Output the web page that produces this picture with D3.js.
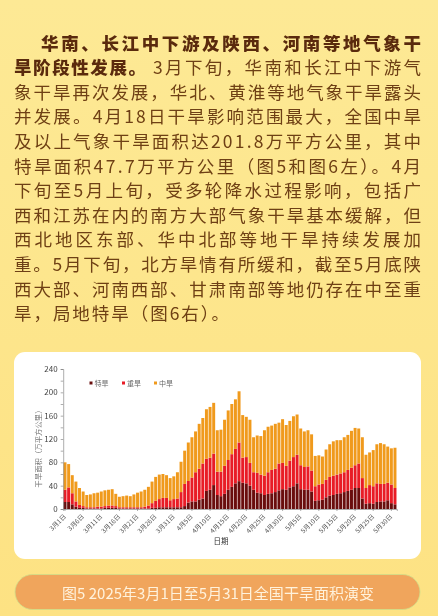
<!DOCTYPE html>
<html><head><meta charset="utf-8">
<script src="https://cdn.jsdelivr.net/npm/d3@7"></script>
<style>html,body{margin:0;padding:0;background:#fde488;overflow:hidden}svg{display:block}text{font-family:"Noto Sans CJK SC",sans-serif}</style>
</head><body><svg id="c" width="438" height="616"></svg>
<script>
const months=[[3,31],[4,30],[5,31]];
const dates=months.flatMap(([m,n])=>d3.range(1,n+1).map(d=>`${m}月${d}日`));
const tickDates=["3月1日","3月6日","3月11日","3月16日","3月21日","3月26日","3月31日","4月5日","4月10日","4月15日","4月20日","4月25日","4月30日","5月5日","5月10日","5月15日","5月20日","5月25日","5月30日"];
const seriesNames=["特旱","重旱","中旱"];
const extreme=[12,12,8,4,2,2,1,1,1,1,1,2,2,2,2,1,1,1,1,1,1,1,1,1,2,2,3,3,3,3,3,3,3,5,11,13,13,16,18,31,33,41,24,22,26,33,38,44,47.7,45,44,40,33,28,27,24,26,27,29,32,34,33,37,39,44,34,33,33,30,14,15,16,20,23,24,26,27,29,31,33,36,36,18,9,10,9,12,13,13,15,10,8];
const severe=[21,25,19,9,5,3,2,2,2,3,3,3,4,4,3,2,2,2,2,2,2,2,3,5,8,12,14,16,16,12,14,15,26,38,37,41,50,53,60,55,55,54,40,42,48,51,56,59,66.3,43,45,39,30,34,32,33,37,40,40,46,45,41,46,50,49,41,39,40,36,25,27,27,30,32,33,33,34,34,36,38,39,42,35,27,31,30,32,30,30,30,32,28];
const moderate=[47,40,31,34,29,25,21,22,24,24,26,27,27,28,21,18,19,20,19,22,25,27,29,32,37,41,42,41,39,38,39,45,52,57,66,69,70,77,78,85,87,87,71,72,79,85,86,85,87.8,73,69,74,60,64,66,78,78,76,77,70,75,70,68,70,69,63,61,62,62,52,50,47,52,56,59,59,57,60,60,63,64,60,70,57,56,62,67,70,68,62,62,69];
const colors=["#6b0f10","#e81c26","#f09a1e"];
const yTicks=[0,40,80,120,160,200,240];
const paragraph=[
 [["华南、长江中下游及陕西、河南等地气象干",1,41,421]],
 [["旱阶段性发展。",1,14,146],["3月下旬，华南和长江中下游气",0,153,421]],
 [["象干旱再次发展，华北、黄淮等地气象干旱露头",0,14,421]],
 [["并发展。4月18日干旱影响范围最大，全国中旱",0,14,421]],
 [["及以上气象干旱面积达201.8万平方公里，其中",0,14,421]],
 [["特旱面积47.7万平方公里（图5和图6左）。4月",0,14,421]],
 [["下旬至5月上旬，受多轮降水过程影响，包括广",0,14,421]],
 [["西和江苏在内的南方大部气象干旱基本缓解，但",0,14,421]],
 [["西北地区东部、华中北部等地干旱持续发展加",0,14,421]],
 [["重。5月下旬，北方旱情有所缓和，截至5月底陕",0,14,421]],
 [["西大部、河南西部、甘肃南部等地仍存在中至重",0,14,421]],
 [["旱，局地特旱（图6右）。",0,14,229]]
];
const caption="图5 2025年3月1日至5月31日全国干旱面积演变";

const svg=d3.select("#c");
const defs=svg.append("defs");
const g=defs.append("linearGradient").attr("id","bg").attr("x1",0).attr("x2",0).attr("y1",0).attr("y2",1);
g.append("stop").attr("offset",0).attr("stop-color","#fde995");
g.append("stop").attr("offset",1).attr("stop-color","#fde283");
defs.append("filter").attr("id","soft").append("feGaussianBlur").attr("stdDeviation",0.35);
defs.append("filter").attr("id","softText").append("feGaussianBlur").attr("stdDeviation",0.25);
svg.append("rect").attr("width",438).attr("height",616).attr("fill","url(#bg)");

const body=svg.append("g").attr("filter","url(#softText)");
paragraph.forEach((line,i)=>{
  const y=49.5+i*24.6;
  line.forEach(([t,bold,x0,x1])=>{
    body.append("text").attr("x",x0).attr("y",y).attr("font-size",17.5)
      .attr("font-weight",bold?900:400).attr("fill",bold?"#5a2b0d":"#6e3f13")
      .attr("textLength",x1-x0).attr("lengthAdjust","spacing").text(t);
  });
});

svg.append("rect").attr("x",14).attr("y",352).attr("width",407).attr("height",207).attr("rx",11).attr("fill","#fff");
svg.append("rect").attr("x",15).attr("y",574.5).attr("width",405).attr("height",35).attr("rx",17.5)
  .attr("fill","#f0a55c").attr("stroke","#cfe08a").attr("stroke-width",0.8);
svg.append("text").attr("x",62).attr("y",598.5).attr("font-size",15).attr("fill","#fff2dc").attr("filter","url(#softText)")
  .attr("textLength",312).attr("lengthAdjust","spacing").text(caption);

const x=d3.scaleBand().domain(dates).range([63.2,396.8]).paddingInner(0.18).paddingOuter(0.09);
const y=d3.scaleLinear().domain([0,240]).range([509,369]);
const rows=dates.map((d,i)=>({d,a:extreme[i],b:severe[i],c:moderate[i]}));
const stack=d3.stack().keys(["a","b","c"])(rows);
const chart=svg.append("g").attr("filter","url(#soft)");
chart.selectAll("g.s").data(stack).join("g").attr("class","s").attr("fill",(d,i)=>colors[i])
  .selectAll("rect").data(d=>d).join("rect")
  .attr("x",d=>x(d.data.d)).attr("width",x.bandwidth())
  .attr("y",d=>y(d[1])).attr("height",d=>y(d[0])-y(d[1]));

const yAxis=d3.axisLeft(y).tickValues(d3.range(0,241,20)).tickSize(2.5)
  .tickFormat(d=>yTicks.includes(d)?d:"");
const ya=chart.append("g").attr("transform","translate(63.2,0)").call(yAxis);
const xAxis=d3.axisBottom(x).tickValues(tickDates).tickSize(2);
const xa=chart.append("g").attr("transform","translate(0,509)").call(xAxis);
[ya,xa].forEach(a=>{a.selectAll("path,line").attr("stroke","#777").attr("stroke-width",0.6);
  a.selectAll("text").attr("fill","#444").attr("font-size",7.5);});
ya.selectAll("text").attr("x",-5.5).attr("font-family","Liberation Sans").attr("font-size",8);
xa.selectAll("text").attr("text-anchor","end").attr("dx",0).attr("dy",0).attr("y",0)
  .attr("font-size",6.5).attr("fill","#555")
  .attr("transform","translate(1.5,8) rotate(-45)");

chart.append("text").attr("transform","translate(41,447) rotate(-90)").attr("text-anchor","middle")
  .attr("font-size",7.4).attr("fill","#777").text("干旱面积（万平方公里）");
chart.append("text").attr("x",221).attr("y",544).attr("text-anchor","middle").attr("font-size",7.5).attr("fill","#333").text("日期");

const lx=[89.5,122,154];
seriesNames.forEach((n,i)=>{
  chart.append("rect").attr("x",lx[i]).attr("y",381.5).attr("width",3).attr("height",3).attr("fill",colors[i]);
  chart.append("text").attr("x",lx[i]+5).attr("y",385.5).attr("font-size",7).attr("fill","#666").text(n);
});
</script></body></html>
